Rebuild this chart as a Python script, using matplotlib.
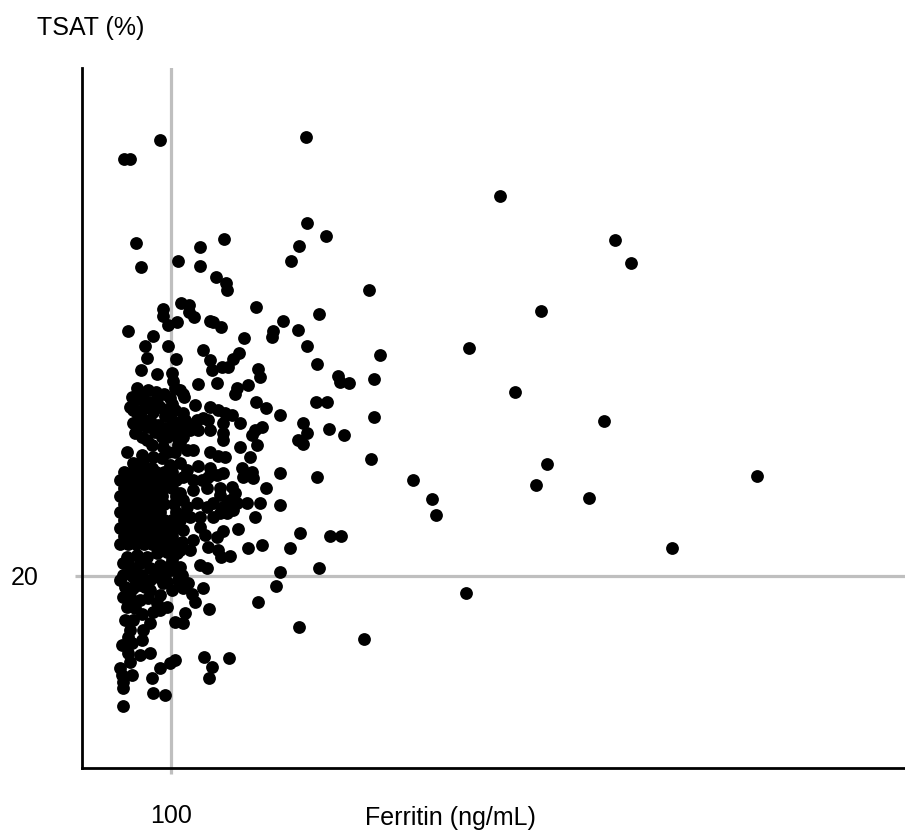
import matplotlib
matplotlib.use("Agg")
import matplotlib.pyplot as plt

plt.rcParams['font.family'] = ['Liberation Sans', 'DejaVu Sans']

# (Ferritin ng/mL, TSAT %) pairs, grouped by region
upper_pts = [(87.6,65.4),(47.2,63.4),(53.9,63.4),(252,65.7),(470,59.6),(599,55.0),(617,52.6),
             (60.7,54.7),(66.3,52.2),(107.9,52.8),(132.6,54.3),(159.6,55.1),(132.6,52.3),
             (150.6,51.1),(161.8,50.5),(162.9,49.8),(253,56.8),(274,55.4),(244,54.4),(235,52.8),
             (322,49.8)]

far_pts = [(516,47.6),(435,43.75),(486,39.2),(587,36.1),(522,31.7),(510,29.5),(570,28.1),
           (758,30.4),(663,22.9),(372,30.0),(393,28.0),(398,26.4),(431,18.2),(317,13.4),(244,14.7)]

mid_high_pts = [(195.5,48.0),(111.2,48.4),(120.2,48.2),(120.2,47.5),(125.8,47.0),(143.8,46.6),
                (147.2,46.4),(156.2,45.9),(226,46.5),(215,45.5),(213,44.9),(243,45.6),(266,47.3),
                (253,43.9),(264,42.1),(335,43.0),(182.0,44.8),(136.0,43.5),(143.8,42.5),(146.1,41.5),
                (157.3,41.8),(164.0,41.8),(169.7,42.6),(176.4,43.2),(197.8,41.6),(200.0,40.7),
                (288,40.8),(290,40.2),(300,40.1),(328,40.5),(91.0,47.8),(91.0,47.1),(96.6,46.1),
                (106.7,46.4),(51.7,45.5),(79.8,45.0),(70.8,43.9),(96.6,44.0),(73.0,42.7),(105.6,42.6),
                (66.3,41.5),(84.3,41.0),(101.1,41.1),(102.2,40.3),(104.5,39.6),(110.1,39.4),
                (113.5,38.9),(130.3,40.0),(151.7,40.1),(61.8,39.6)]

mid_pts = [(56.2,38.6),(59.6,38.3),(68.5,38.4),(76.4,38.1),(84.3,38.0),(87.6,37.6),(53.9,37.6),
           (57.3,37.3),(61.8,37.0),(67.4,37.3),(57.3,35.9),(61.8,35.5),(59.6,34.9),(68.5,36.25),
           (73.0,35.5),(67.4,34.5),(95.5,37.3),(104.5,37.3),(101.1,36.25),(110.1,36.0),(98.9,35.2),
           (110.1,35.0),(106.7,34.5),(114.6,38.6),(127.0,37.8),(143.8,37.6),(152.8,37.3),
           (160.7,37.0),(168.5,36.8),(171.9,38.9),(174.2,39.6),(186.5,39.9),(195.5,38.1),
           (206.7,37.5),(222.5,36.8),(177.5,35.9),(194.4,35.2),(191.0,34.7),(202.2,35.5),
           (248,35.9),(243,34.2),(253,34.9),(248,33.75),(113.5,37.0),(118.0,35.9),(129.2,36.25),
           (136.0,36.5),(141.6,36.25),(130.3,35.2),(143.8,35.2),(158.4,34.2),(177.5,33.4),
           (196.6,33.6),(188.8,32.4),(143.8,32.9),(152.8,32.5),(160.7,32.4),(113.5,34.5),
           (118.0,33.1),(124.7,33.1),(263,38.1),(275,38.1),(278,35.3),(294,34.7),(328,36.6),
           (325,32.2),(158.4,35.9),(158.4,34.9),(50.6,32.9),(57.3,31.8),(68.5,31.8),(78.7,31.25),
           (67.4,32.6),(79.8,32.4),(89.9,32.3),(73.0,34.2),(95.5,34.5),(110.1,33.9),(91.0,33.4),
           (104.5,32.9),(98.9,31.6)]

mid_dense_pts = [(65.2,39.2),(74.2,39.4),(83.1,39.2),(92.1,38.9),(98.9,38.5),(71.9,37.8),(79.8,37.1),
                 (93.3,36.7),(101.1,37.9),(76.4,36.25),(85.4,35.7),(93.3,35.4),(104.5,35.7),
                 (89.9,34.5),(78.7,33.6),(96.6,32.9),(107.9,33.6),(82.0,35.0),(115.7,36.25),(121.3,35.2)]

core_right_pts = [(130.3,31.4),(143.8,31.25),(158.4,30.7),(179.8,31.25),(180.9,30.3),(191.0,30.8),
                  (192.1,30.2),(222.5,30.7),(110.1,31.8),(118.0,31.0),(113.5,30.3),(124.7,30.0),
                  (134.8,30.0),(141.6,30.3),(124.7,29.0),(140.4,29.2),(155.1,29.2),(168.5,29.3),
                  (171.9,28.6),(166.3,27.9),(206.7,29.2),(110.1,28.6),(113.5,27.9),(118.0,27.2),
                  (129.2,27.6),(140.4,27.2),(147.2,27.6),(185.4,27.6),(200.0,27.6),(222.5,27.4),
                  (158.4,27.2),(169.7,26.9),(194.4,26.1),(121.3,26.1),(132.6,26.1),(147.2,26.1),
                  (264,30.3),(151.7,30.5),(155.1,28.4),(162.9,26.6),(162.9,27.6),(174.2,27.6),
                  (113.5,26.4),(155.1,26.6),(175.3,24.9),(245,24.5),(138.2,24.3),(151.7,24.1),
                  (158.4,24.7),(113.5,24.8),(112.4,23.5),(124.7,23.75),(141.6,23.0),(152.8,22.7),
                  (156.2,22.0),(166.3,22.1),(186.5,22.9),(202.2,23.2),(234,22.9),(110.1,22.7),
                  (121.3,22.7),(279,24.2),(291,24.2),(132.6,25.1)]

core_left_pts = [(47.2,30.8),(56.2,30.8),(65.2,30.8),(74.2,30.8),(83.1,30.8),(92.1,30.8),(101.1,30.8),
                 (42.7,30.0),(51.7,30.0),(60.7,30.0),(69.7,30.0),(78.7,30.0),(87.6,30.0),(96.6,30.0),(105.6,30.0),
                 (47.2,29.2),(56.2,29.2),(65.2,29.2),(74.2,29.2),(83.1,29.2),(92.1,29.2),(101.1,29.2),
                 (42.7,28.3),(51.7,28.3),(60.7,28.3),(69.7,28.3),(78.7,28.3),(89.9,28.3),(105.6,28.3),
                 (47.2,27.5),(56.2,27.5),(65.2,27.5),(74.2,27.5),(83.1,27.5),(92.1,27.5),(103.4,27.5),
                 (42.7,26.7),(51.7,26.7),(60.7,26.7),(69.7,26.7),(78.7,26.7),(87.6,26.7),(105.6,26.7),
                 (47.2,25.8),(56.2,25.8),(65.2,25.8),(74.2,25.8),(83.1,25.8),(92.1,25.8),(101.1,25.8),(110.1,25.8),
                 (42.7,25.0),(51.7,25.0),(60.7,25.0),(69.7,25.0),(78.7,25.0),(87.6,25.0),(96.6,25.0),(105.6,25.0),
                 (47.2,24.2),(56.2,24.2),(65.2,24.2),(74.2,24.2),(83.1,24.2),(92.1,24.2),(101.1,24.2),
                 (42.7,23.3),(51.7,23.3),(60.7,23.3),(69.7,23.3),(78.7,23.3),(87.6,23.3),(96.6,23.3),(105.6,23.3)]

low_dense_pts = [(51.7,21.7),(70.8,21.7),(101.1,21.7),(59.6,20.6),(82.0,20.4),(93.3,20.1),
                 (42.7,19.6),(70.8,18.9),(101.1,18.5),(87.6,18.0),(53.9,18.3),(74.2,17.7)]

low_pts = [(110.1,20.9),(112.4,20.1),(132.6,21.1),(140.4,20.8),(110.1,19.4),(119.1,19.3),(136.0,18.75),
           (123.6,18.1),(127.0,17.3),(222.5,20.4),(218,19.0),(197.8,17.3),(142.7,16.6),(115.7,16.1),
           (113.5,15.1),(137.1,11.6),(165.2,11.5),(146.1,10.5),(142.7,9.4),(266,20.8),(113.5,18.75),
           (104.5,15.2),(50.6,22.0),(61.8,22.2),(73.0,22.0),(84.3,22.4),(95.5,22.5),(106.7,22.4),
           (46.1,21.4),(53.9,20.9),(65.2,21.4),(76.4,20.8),(87.6,21.1),(95.5,20.9),(102.2,20.6),
           (46.1,20.1),(57.3,19.9),(67.4,20.1),(76.4,19.6),(85.4,19.9),(95.5,19.4),(107.9,19.6),
           (91.0,19.3),(48.3,18.9),(57.3,18.75),(65.2,19.1),(76.4,18.5),(46.1,17.8),(56.2,17.5),
           (65.2,17.5),(84.3,17.2),(95.5,16.8),(87.6,16.5),(79.8,16.25),(50.6,16.8),(59.6,16.7),
           (67.4,16.0),(48.3,15.4),(57.3,15.4),(76.4,15.1),(53.9,14.4),(68.5,14.4),(51.7,13.6),
           (67.4,13.3),(44.9,12.8),(56.2,13.0),(51.7,12.0),(65.2,11.8),(76.4,12.0),(53.9,11.0),
           (42.7,10.4),(44.9,9.7),(56.2,9.7),(46.1,9.0),(46.1,8.3),(87.6,10.4),(98.9,10.9),
           (104.5,11.25),(78.7,9.4),(79.8,7.8),(93.3,7.6),(46.1,6.5)]

ferritin_ref = 100
tsat_ref = 20
x_tick_labels = ['100']
y_tick_labels = ['20']

all_pts = (upper_pts + far_pts + mid_high_pts + mid_pts + mid_dense_pts
           + core_right_pts + core_left_pts + low_dense_pts + low_pts)
ferritin = [p[0] for p in all_pts]
tsat = [p[1] for p in all_pts]

W, H = 905, 830
fig = plt.figure(figsize=(W/100, H/100), dpi=100)
ax = fig.add_axes([82/W, 62/H, 823/W, 700/H])
ax.set_xlim(0, 924.7)
ax.set_ylim(0, 72.9)

gray = '#bfbfbf'
ax.axvline(ferritin_ref, color=gray, lw=2.3, zorder=1)
ax.axhline(tsat_ref, color=gray, lw=2.3, zorder=1)
ax.scatter(ferritin, tsat, s=85, c='black', linewidths=0, zorder=3)

for s in ['top', 'right']:
    ax.spines[s].set_visible(False)
for s in ['left', 'bottom']:
    ax.spines[s].set_color('black')
    ax.spines[s].set_linewidth(2.0)
    ax.spines[s].set_zorder(4)

ax.set_xticks([ferritin_ref])
ax.set_xticklabels(x_tick_labels, fontsize=18)
ax.set_yticks([tsat_ref])
ax.set_yticklabels(y_tick_labels, fontsize=18)
ax.tick_params(axis='x', length=4, width=2.3, color=gray, pad=22)
ax.tick_params(axis='y', length=5, width=2.3, color=gray, pad=26)

fig.text(37/W, 1 - 28/H, 'TSAT (%)', ha='left', va='center', fontsize=18)
fig.text(365/W, 1 - 818/H, 'Ferritin (ng/mL)', ha='left', va='center', fontsize=18)

fig.savefig('out.png', dpi=100, facecolor='white')
